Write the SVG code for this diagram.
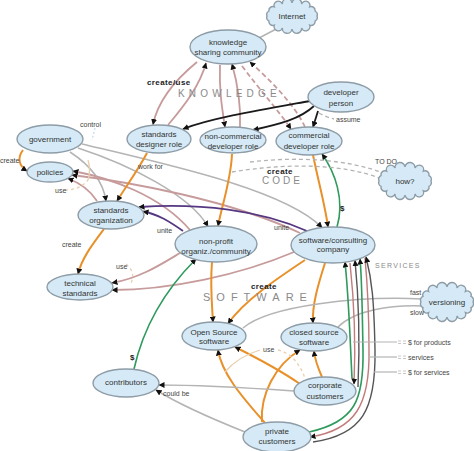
<svg xmlns="http://www.w3.org/2000/svg" width="474" height="451" viewBox="0 0 474 451">
<defs>
<marker id="ah" markerWidth="6" markerHeight="6" refX="5.5" refY="3" orient="auto" markerUnits="userSpaceOnUse">
<path d="M0,0 L6,3 L0,6 z" fill="#111"/>
</marker>
<style>
.node ellipse, .node path {fill:#d5eaf6; stroke:#8d9ca6; stroke-width:1.4;}
.nt {font-family:"Liberation Sans", Arial, sans-serif; font-size:8px; fill:#333; text-anchor:middle;}
.lb {font-family:"Liberation Sans", Arial, sans-serif; font-size:7px; fill:#444;}
.bd {font-family:"Liberation Sans", Arial, sans-serif; font-size:8px; font-weight:bold; fill:#222; letter-spacing:0.4px;}
.sec {font-family:"Liberation Sans", Arial, sans-serif; fill:#8a8a8a;}
#connectors path {fill:none;}
.pk {stroke:#c79b9b; stroke-width:1.8;}
.pkd {stroke:#c79b9b; stroke-width:1.8; stroke-dasharray:5 3;}
.bk {stroke:#1a1a1a; stroke-width:1.8;}
.gy {stroke:#b4b4b4; stroke-width:1.5;}
.gyd {stroke:#b4b4b4; stroke-width:1.3; stroke-dasharray:4 3;}
.or {stroke:#e8902a; stroke-width:2;}
.gr {stroke:#2e9a5c; stroke-width:1.6;}
.pu {stroke:#553782; stroke-width:1.8;}
.sv {stroke:#555; stroke-width:1.4;}
.svp {stroke:#c27a7a; stroke-width:1.4;}
.use {stroke:#e9cfae; stroke-width:1.3;}
.used {stroke:#e9cfae; stroke-width:1.3; stroke-dasharray:3 3;}
.ctl {stroke:#c4dcec; stroke-width:1.3; stroke-dasharray:2 2;}
.leg {stroke:#b4b4b4; stroke-width:1.2;}
.legd {stroke:#c8c8c8; stroke-width:1; stroke-dasharray:3 2;}
</style>
</defs>
<rect width="474" height="451" fill="#ffffff"/>

<g id="connectors">
<!-- Internet -->
<path class="gy" d="M259,38 L280,27"/>
<!-- knowledge <-> roles -->
<path class="pk" d="M197,62 C175,80 158,100 153,124.5" marker-end="url(#ah)"/>
<path class="pk" d="M168,125 C185,105 200,85 206,63" marker-end="url(#ah)"/>
<path class="pk" d="M220,65 C219,90 222,108 225,127" marker-end="url(#ah)"/>
<path class="pk" d="M240,127 C241,105 238,85 232,64" marker-end="url(#ah)"/>
<path class="pkd" d="M242,66 C260,90 278,110 291,129" marker-end="url(#ah)"/>
<path class="pkd" d="M305,127 C295,105 270,80 250,62" marker-end="url(#ah)"/>
<!-- developer person -->
<path class="bk" d="M310,101 C260,110 212,118 183,129" marker-end="url(#ah)"/>
<path class="bk" d="M314,106 C300,119 280,124 253,130" marker-end="url(#ah)"/>
<path class="bk" d="M318,111 L313,127" marker-end="url(#ah)"/>
<path class="gyd" d="M319,113 Q326,117 334,119"/>
<!-- government -->
<path class="ctl" d="M95,128 L92,140"/>
<path class="or" d="M23,150 C17,158 19,166 27,171" marker-end="url(#ah)"/>
<path class="gy" d="M70,152 C90,165 103,180 106,201" marker-end="url(#ah)"/>
<path class="gy" d="M78,148 C130,165 190,195 208,226.5" marker-end="url(#ah)"/>
<path class="gy" d="M82,144 C170,165 285,190 322,227.5" marker-end="url(#ah)"/>
<!-- policies -->
<path class="pk" d="M190,230 C160,195 110,178 73,171" marker-end="url(#ah)"/>
<path class="pk" d="M300,233 C230,200 130,182 72,175" marker-end="url(#ah)"/>
<path class="pk" d="M97,201 C90,190 80,183 68,178.5" marker-end="url(#ah)"/>
<path class="used" d="M65,190 Q80,190 88,180"/>
<path class="use" d="M88,180 Q91,170 88,160"/>
<!-- roles to orgs -->
<path class="or" d="M147,153 C138,170 127,185 117,201" marker-end="url(#ah)"/>
<path class="or" d="M232,154 C231,180 222,205 218,226" marker-end="url(#ah)"/>
<path class="or" d="M313,155 C318,180 325,205 328,227" marker-end="url(#ah)"/>
<path class="gr" d="M337,227 C345,200 335,172 322,154" marker-end="url(#ah)"/>
<!-- code dashed -->
<path class="gyd" d="M250,162 C300,156 350,160 383,173"/>
<path class="gyd" d="M232,172 C280,164 340,162 382,179"/>
<!-- unite -->
<path class="pu" d="M183,231 C170,222 158,214 143,211.5" marker-end="url(#ah)"/>
<path class="pu" d="M307,231 C260,210 200,203 139,207" marker-end="url(#ah)"/>
<!-- technical standards -->
<path class="or" d="M104,229 C92,245 82,258 78,274" marker-end="url(#ah)"/>
<path class="pk" d="M180,253 C160,265 140,278 112,283" marker-end="url(#ah)"/>
<path class="pk" d="M294,252 C240,275 170,290 112,290" marker-end="url(#ah)"/>
<path class="used" d="M126,264 Q136,272 131,283"/>
<!-- software -->
<path class="or" d="M212,262 C210,285 212,305 213,322" marker-end="url(#ah)"/>
<path class="or" d="M305,260 C275,280 245,300 228,323.5" marker-end="url(#ah)"/>
<path class="or" d="M325,263 C318,285 312,305 313,323" marker-end="url(#ah)"/>
<path class="gr" d="M134,369 C145,320 170,285 196,259" marker-end="url(#ah)"/>
<!-- versioning -->
<path class="gy" d="M422,299 C360,296 270,305 243,328"/>
<path class="gy" d="M422,306 C390,305 355,310 338,327"/>
<!-- customers -->
<path class="or" d="M300,384 C280,370 255,357 235,347" marker-end="url(#ah)"/>
<path class="or" d="M322,377 C318,368 315,360 314,351" marker-end="url(#ah)"/>
<path class="or" d="M265,423 C245,400 222,375 218,350" marker-end="url(#ah)"/>
<path class="or" d="M262,422 C260,395 275,365 300,350" marker-end="url(#ah)"/>
<path class="use" d="M225,372 C235,360 250,353 260,350"/>
<path class="used" d="M278,350 C292,353 300,365 305,378"/>
<path class="gy" d="M294,391 C250,388 200,385 159,385" marker-end="url(#ah)"/>
<path class="gy" d="M245,432 C215,420 180,405 156,390" marker-end="url(#ah)"/>
<!-- services -->
<path class="gr" d="M352,378 C350,340 349,300 345,262" marker-end="url(#ah)"/>
<path class="svp" d="M350,263 C354,300 356,340 354,384" marker-end="url(#ah)"/>
<path class="sv" d="M358,387 C360,340 359,300 355,260.5" marker-end="url(#ah)"/>
<path class="gr" d="M309,432 C355,422 364,400 363,350 C362,300 362,280 360,259" marker-end="url(#ah)"/>
<path class="svp" d="M365,258 C368,290 369,310 369,350 C370,405 355,430 310,437" marker-end="url(#ah)"/>
<path class="sv" d="M313,442 C362,435 376,410 375,350 C374,300 372,280 366,257" marker-end="url(#ah)"/>
<!-- legend -->
<path class="leg" d="M353,342 L397,342"/>
<path class="leg" d="M368,357 L397,357"/>
<path class="leg" d="M374,372 L397,372"/>
<path class="legd" d="M398,341 L407,341 M398,343.5 L407,343.5 M398,356 L407,356 M398,358.5 L407,358.5 M398,371 L407,371 M398,373.5 L407,373.5"/>
</g>

<g id="internet" class="node"><path d="M317,16 A4,4 0 0 1 315.1,21 A4,4 0 0 1 309.7,25.2 A4,4 0 0 1 301.6,28 A4,4 0 0 1 292,29 A4,4 0 0 1 282.4,28 A4,4 0 0 1 274.3,25.2 A4,4 0 0 1 268.9,21 A4,4 0 0 1 267,16 A4,4 0 0 1 268.9,11 A4,4 0 0 1 274.3,6.8 A4,4 0 0 1 282.4,4 A4,4 0 0 1 292,3 A4,4 0 0 1 301.6,4 A4,4 0 0 1 309.7,6.8 A4,4 0 0 1 315.1,11 A4,4 0 0 1 317,16 Z"/><text class="nt" x="292" y="19">Internet</text></g>
<g id="how" class="node"><path d="M431,181 A4,4 0 0 1 429,186.4 A4,4 0 0 1 423.4,190.9 A4,4 0 0 1 415,193.9 A4,4 0 0 1 405,195 A4,4 0 0 1 395,193.9 A4,4 0 0 1 386.6,190.9 A4,4 0 0 1 381,186.4 A4,4 0 0 1 379,181 A4,4 0 0 1 381,175.6 A4,4 0 0 1 386.6,171.1 A4,4 0 0 1 395,168.1 A4,4 0 0 1 405,167 A4,4 0 0 1 415,168.1 A4,4 0 0 1 423.4,171.1 A4,4 0 0 1 429,175.6 A4,4 0 0 1 431,181 Z"/><text class="nt" x="405" y="184">how?</text></g>
<g id="versioning" class="node"><path d="M473,302 A4,4 0 0 1 471,307.7 A4,4 0 0 1 465.4,312.6 A4,4 0 0 1 457,315.9 A4,4 0 0 1 447,317 A4,4 0 0 1 437,315.9 A4,4 0 0 1 428.6,312.6 A4,4 0 0 1 423,307.7 A4,4 0 0 1 421,302 A4,4 0 0 1 423,296.3 A4,4 0 0 1 428.6,291.4 A4,4 0 0 1 437,288.1 A4,4 0 0 1 447,287 A4,4 0 0 1 457,288.1 A4,4 0 0 1 465.4,291.4 A4,4 0 0 1 471,296.3 A4,4 0 0 1 473,302 Z"/><text class="nt" x="447" y="305">versioning</text></g>

<g id="knowledge" class="node"><ellipse cx="228" cy="47" rx="38" ry="17"/><text class="nt" x="228" y="45">knowledge</text><text class="nt" x="228" y="55">sharing community</text></g>
<g id="developer-person" class="node"><ellipse cx="341" cy="97" rx="33" ry="15"/><text class="nt" x="341" y="95">developer</text><text class="nt" x="341" y="106">person</text></g>
<g id="standards-designer" class="node"><ellipse cx="159" cy="139" rx="32" ry="14"/><text class="nt" x="159" y="137">standards</text><text class="nt" x="159" y="147">designer role</text></g>
<g id="noncommercial-dev" class="node"><ellipse cx="233" cy="140" rx="33" ry="13"/><text class="nt" x="233" y="139">non-commercial</text><text class="nt" x="233" y="149">developer role</text></g>
<g id="commercial-dev" class="node"><ellipse cx="309" cy="141" rx="33" ry="14"/><text class="nt" x="309" y="138">commercial</text><text class="nt" x="309" y="149">developer role</text></g>
<g id="government" class="node"><ellipse cx="50" cy="139" rx="33" ry="14"/><text class="nt" x="50" y="142">government</text></g>
<g id="policies" class="node"><ellipse cx="50" cy="172" rx="23" ry="10"/><text class="nt" x="50" y="175">policies</text></g>
<g id="standards-org" class="node"><ellipse cx="111" cy="215" rx="33" ry="14"/><text class="nt" x="111" y="213">standards</text><text class="nt" x="111" y="223">organization</text></g>
<g id="technical-standards" class="node"><ellipse cx="80" cy="287" rx="33" ry="13"/><text class="nt" x="80" y="286">technical</text><text class="nt" x="80" y="296">standards</text></g>
<g id="nonprofit" class="node"><ellipse cx="216" cy="244" rx="41" ry="18"/><text class="nt" x="216" y="244">non-profit</text><text class="nt" x="216" y="254">organiz./community</text></g>
<g id="software-company" class="node"><ellipse cx="333" cy="245" rx="42" ry="18"/><text class="nt" x="333" y="243">software/consulting</text><text class="nt" x="333" y="252">company</text></g>
<g id="open-source" class="node"><ellipse cx="214" cy="336" rx="32" ry="14"/><text class="nt" x="214" y="335">Open Source</text><text class="nt" x="214" y="344">software</text></g>
<g id="closed-source" class="node"><ellipse cx="314" cy="337" rx="33" ry="14"/><text class="nt" x="314" y="335">closed source</text><text class="nt" x="314" y="345">software</text></g>
<g id="contributors" class="node"><ellipse cx="126" cy="383" rx="33" ry="14"/><text class="nt" x="126" y="385">contributors</text></g>
<g id="corporate-customers" class="node"><ellipse cx="325" cy="391" rx="31" ry="14"/><text class="nt" x="325" y="388">corporate</text><text class="nt" x="325" y="399">customers</text></g>
<g id="private-customers" class="node"><ellipse cx="277" cy="437" rx="34" ry="15"/><text class="nt" x="277" y="434">private</text><text class="nt" x="277" y="444">customers</text></g>

<g id="labels">
<text class="bd" x="147" y="85">create/use</text>
<text class="sec" x="178" y="97" font-size="10" letter-spacing="4.2">KNOWLEDGE</text>
<text class="lb" x="336" y="122">assume</text>
<text class="lb" x="80" y="127">control</text>
<text class="lb" x="0" y="163">create</text>
<text class="lb" x="55" y="193">use</text>
<text class="lb" x="138" y="169">work for</text>
<text class="bd" x="267" y="174">create</text>
<text class="sec" x="262" y="184" font-size="10" letter-spacing="3">CODE</text>
<text class="lb" x="375" y="164">TO DO</text>
<text class="bd" x="340" y="211">$</text>
<text class="lb" x="157" y="233">unite</text>
<text class="lb" x="274" y="230">unite</text>
<text class="lb" x="62" y="247">create</text>
<text class="lb" x="116" y="269">use</text>
<text class="sec" x="375" y="268" font-size="7" letter-spacing="1.3">SERVICES</text>
<text class="bd" x="251" y="289">create</text>
<text class="sec" x="203" y="301" font-size="11" letter-spacing="6">SOFTWARE</text>
<text class="lb" x="410" y="295">fast</text>
<text class="lb" x="410" y="315">slow</text>
<text class="lb" x="263" y="352">use</text>
<text class="lb" x="408" y="345">$ for products</text>
<text class="lb" x="408" y="360">services</text>
<text class="lb" x="408" y="375">$ for services</text>
<text class="bd" x="130" y="360">$</text>
<text class="lb" x="163" y="396">could be</text>
</g>
</svg>
